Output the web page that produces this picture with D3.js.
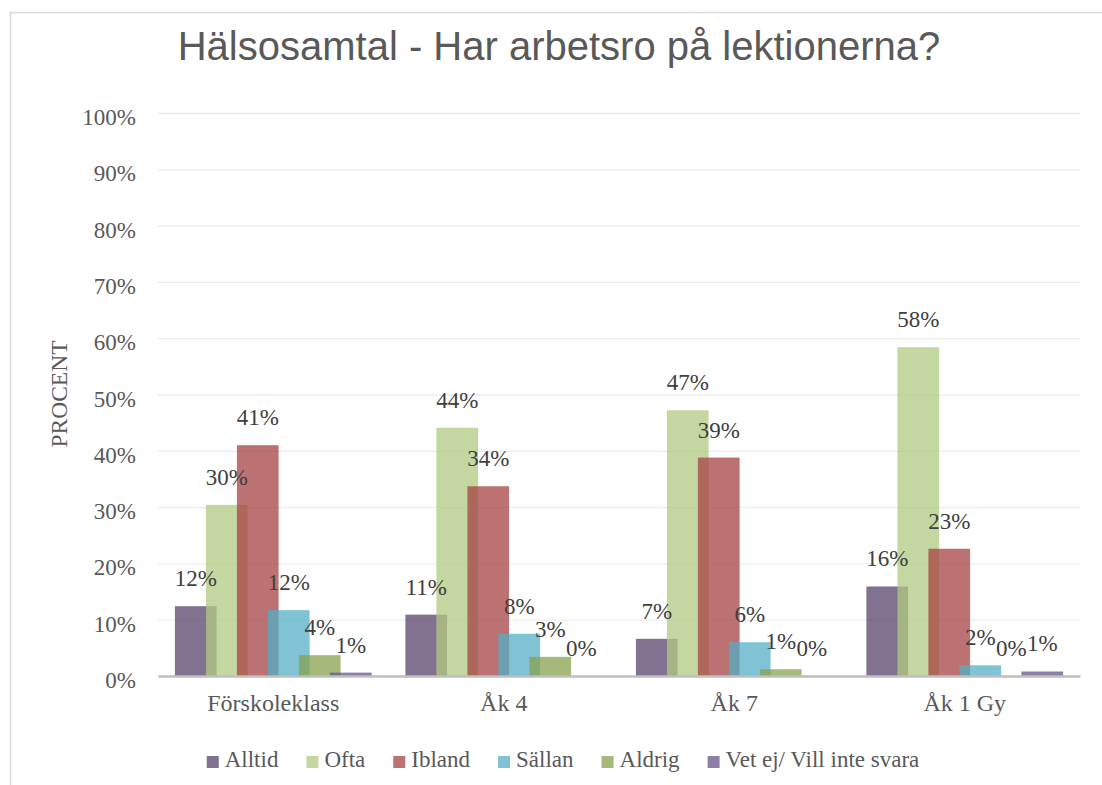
<!DOCTYPE html>
<html>
<head>
<meta charset="utf-8">
<script src="https://cdn.jsdelivr.net/npm/d3@7"></script>
<style>
  body { margin: 0; background: #fff; }
  svg { display: block; }
  .serif { font-family: "Liberation Serif", "Times New Roman", serif; }
</style>
</head>
<body>
<div id="chart"></div>
<script>
// chart data (percent)
const categories = ["Förskoleklass", "Åk 4", "Åk 7", "Åk 1 Gy"];
const seriesNames = ["Alltid", "Ofta", "Ibland", "Sällan", "Aldrig", "Vet ej/ Vill inte svara"];
const alltid = [12.4, 10.9, 6.6, 15.9];
const ofta = [30.4, 44.1, 47.2, 58.4];
const ibland = [41.0, 33.7, 38.8, 22.6];
const sallan = [11.7, 7.5, 6.0, 1.9];
const aldrig = [3.7, 3.4, 1.2, 0];
const vetEj = [0.6, 0, 0, 0.8];
const yTicks = [0, 10, 20, 30, 40, 50, 60, 70, 80, 90, 100];

const seriesValues = [alltid, ofta, ibland, sallan, aldrig, vetEj];
const colors = ["#57436c", "#b2ca82", "#a64343", "#54afc6", "#87a24e", "#68548b"];

const width = 1102, height = 785;
const margin = {top: 113, bottom: 109, left: 158, right: 22};

const svg = d3.select("#chart").append("svg")
    .attr("width", width)
    .attr("height", height);

// outer chart border (runs off the right and bottom edges)
svg.append("rect")
    .attr("x", 10.5).attr("y", 12.5)
    .attr("width", 1120).attr("height", 800)
    .attr("fill", "#fff")
    .attr("stroke", "#d9d9d9")
    .attr("stroke-width", 1.5);

// title
svg.append("text")
    .attr("x", 559).attr("y", 60)
    .attr("text-anchor", "middle")
    .attr("font-family", "'Liberation Sans', Arial, sans-serif")
    .attr("font-size", 40)
    .attr("fill", "#595959")
    .text("Hälsosamtal - Har arbetsro på lektionerna?");

const x0 = d3.scaleBand()
    .domain(categories)
    .range([margin.left, width - margin.right])
    .padding(0);

const barW = 41.7;
const x1 = d3.scalePoint()
    .domain(seriesNames)
    .range([-77.5, 77.5]);

const y = d3.scaleLinear()
    .domain([0, 100])
    .range([height - margin.bottom, margin.top]);

// gridlines + y labels
const yAxis = d3.axisLeft(y)
    .tickValues(yTicks)
    .tickSize(-(width - margin.left - margin.right))
    .tickPadding(22)
    .tickFormat(d => d + "%");

const yAxisGroup = svg.append("g")
    .attr("class", "serif")
    .attr("transform", `translate(${margin.left},0)`)
    .call(yAxis);

yAxisGroup.select(".domain").remove();
yAxisGroup.selectAll(".tick line")
    .attr("stroke", "#ececec")
    .attr("stroke-width", 1.3);
yAxisGroup.selectAll(".tick text")
    .attr("font-size", 23)
    .attr("fill", "#595959")
    .attr("dy", "0.5em");

// y axis title
svg.append("text")
    .attr("class", "serif")
    .attr("transform", "translate(67,394) rotate(-90)")
    .attr("text-anchor", "middle")
    .attr("font-size", 23.5)
    .attr("fill", "#595959")
    .text("PROCENT");

// bars
const rows = [];
seriesNames.forEach((s, i) => {
    categories.forEach((c, j) => {
        rows.push({series: s, cat: c, value: seriesValues[i][j], color: colors[i]});
    });
});

const barX = d => x0(d.cat) + x0.bandwidth() / 2 + x1(d.series);

svg.append("g").selectAll("rect")
    .data(rows)
    .join("rect")
    .attr("x", d => barX(d) - barW / 2)
    .attr("width", barW)
    .attr("y", d => y(d.value))
    .attr("height", d => y(0) - y(d.value))
    .attr("fill", d => d.color)
    .attr("fill-opacity", 0.75);

// category axis line
const xAxis = d3.axisBottom(x0).tickSize(0);
const xAxisGroup = svg.append("g")
    .attr("class", "serif")
    .attr("transform", `translate(0,${y(0)})`)
    .call(xAxis);

xAxisGroup.select(".domain")
    .attr("stroke", "#bfbfbf")
    .attr("stroke-width", 2.5);
xAxisGroup.selectAll(".tick text")
    .attr("font-size", 24)
    .attr("fill", "#595959")
    .attr("y", 35)
    .attr("dy", 0);

// data labels
svg.append("g").attr("class", "serif").selectAll("text")
    .data(rows)
    .join("text")
    .attr("x", d => barX(d))
    .attr("y", d => y(d.value) - 20)
    .attr("text-anchor", "middle")
    .attr("font-size", 23)
    .attr("fill", "#404040")
    .text(d => Math.round(d.value) + "%");

// legend
const legend = svg.append("g").attr("class", "serif");
const items = legend.selectAll("g")
    .data(seriesNames)
    .join("g");

items.append("rect")
    .attr("width", 12).attr("height", 12)
    .attr("y", 756)
    .attr("fill", (d, i) => colors[i])
    .attr("fill-opacity", 0.75);

items.append("text")
    .attr("x", 18)
    .attr("y", 767)
    .attr("font-size", 23)
    .attr("fill", "#595959")
    .text(d => d);

// place items side by side, centered under the chart area
let offsets = [], cur = 0;
items.each(function() {
    const w = 18 + d3.select(this).select("text").node().getComputedTextLength();
    offsets.push(cur);
    cur += w + 28;
});
const total = cur - 28;
const startX = 563 - total / 2;
items.attr("transform", (d, i) => `translate(${startX + offsets[i]},0)`);
</script>
</body>
</html>
